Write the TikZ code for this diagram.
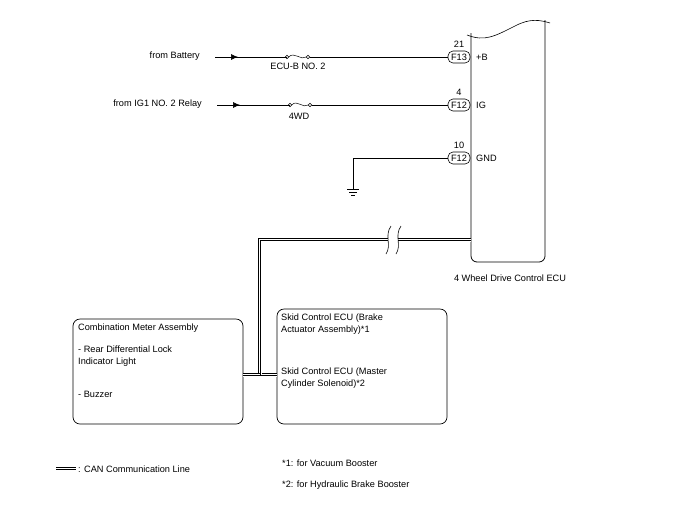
\documentclass[tikz,border=0pt]{standalone}
\usepackage{fontspec}
\setmainfont{Liberation Sans}
\usetikzlibrary{arrows.meta,positioning,calc}

\begin{document}
\begin{tikzpicture}[x=1pt,y=-1pt,
		every node/.style={font=\fontsize{9.2}{12}\selectfont, inner sep=0pt},
		wire/.style={line width=0.6pt},
		can/.style={line width=4.6pt, draw=black, postaction={draw=white, line width=3pt}, postaction={draw=black, line width=0.7pt}},
		pin/.style={draw, rounded corners=5pt, minimum width=22pt, minimum height=12pt, line width=0.6pt},
		box/.style={draw, rounded corners=7pt, line width=0.7pt},
		unitText/.style={anchor=north west, align=left},
		fuse/.style={line width=0.5pt}
	]
	\useasboundingbox (0,0) rectangle (692,520);

	% ECU body
	\draw[line width=0.8pt, rounded corners=6pt] (471,33) -- (471,262) -- (545,262) -- (545,20);
	\draw[line width=0.6pt] (467,35) .. controls (485,42) and (495,36) .. (515,26) .. controls (530,18) and (540,20) .. (550,23);
	\node (ecu) at (510,278) {4 Wheel Drive Control ECU};

	% connectors
	\node[pin] (f13) at (459,57) {F13};
	\node[pin] (f12a) at (459,105) {F12};
	\node[pin] (f12b) at (459,158) {F12};
	\node[above=3pt of f13] {21};
	\node[above=3pt of f12a] {4};
	\node[above=3pt of f12b] {10};
	\node[anchor=west] at (476,57) {+B};
	\node[anchor=west] at (476,105) {IG};
	\node[anchor=west] at (476,158) {GND};

	% +B line
	\node[anchor=east] (bat) at (200,56) {from Battery};
	\coordinate (fa1) at (287,57);
	\coordinate (fa2) at (308,57);
	\draw[wire] (bat.east) ++(15,1) coordinate (bs) -- (fa1);
	\draw[wire, -{Latex[length=7pt,width=6pt]}] (bs) -- (238,57);
	\draw[fuse] (fa1) circle (1.7pt) (fa2) circle (1.7pt);
	\draw[fuse] ($(fa1)+(1.7,0)$) .. controls (294,51) and (301,61) .. ($(fa2)+(-1.7,0)$);
	\draw[wire] ($(fa2)+(1.7,0)$) -- (f13.west);
	\node (ecub) at (298,66) {ECU-B NO. 2};

	% IG line
	\node[anchor=east] (ig) at (202,104) {from IG1 NO. 2 Relay};
	\coordinate (fb1) at (290,105);
	\coordinate (fb2) at (310,105);
	\draw[wire] (ig.east) ++(15,1) coordinate (is) -- (fb1);
	\draw[wire, -{Latex[length=7pt,width=6pt]}] (is) -- (240,105);
	\draw[fuse] (fb1) circle (1.7pt) (fb2) circle (1.7pt);
	\draw[fuse] ($(fb1)+(1.7,0)$) .. controls (297,99) and (303,109) .. ($(fb2)+(-1.7,0)$);
	\draw[wire] ($(fb2)+(1.7,0)$) -- (f12a.west);
	\node (fwd) at (299,116) {4WD};

	% GND line
	\coordinate (gnd) at (353,189);
	\draw[wire] (f12b.west) -- (353,158) -- (gnd);
	\draw[line width=0.6pt] ($(gnd)+(-6,0)$) -- ($(gnd)+(6,0)$)
		($(gnd)+(-4,3)$) -- ($(gnd)+(4,3)$)
		($(gnd)+(-2,6)$) -- ($(gnd)+(2,6)$);

	% units
	\draw[box] (73,319) coordinate (meterNW) rectangle (243,424) coordinate (meterSE);
	\draw[box] (277,309) coordinate (skidNW) rectangle (447,424) coordinate (skidSE);
	\node[unitText] (meter) at (78,324) {Combination Meter Assembly\\[10pt]- Rear Differential Lock\\Indicator Light\\[21pt]- Buzzer};
	\node[unitText] (skid) at (281,314) {Skid Control ECU (Brake\\Actuator Assembly)*1\\[30pt]Skid Control ECU (Master\\Cylinder Solenoid)*2};

	% CAN bus
	\coordinate (ecuCan) at (471,240);
	\coordinate (tee) at (260,375);
	\draw[can] (ecuCan) -- (260,240) -- (tee) -- (skidNW |- tee);
	\draw[can] (meterSE |- tee) -- (tee);
	\fill[white] (388,235) rectangle (398,245);
	\draw[line width=0.6pt] (391,226) .. controls (384,236) and (392,245) .. (386,254)
		(401,226) .. controls (394,236) and (402,245) .. (396,254);

	% legend
	\coordinate (lg) at (56,469);
	\draw[can] (lg) -- ++(20,0) coordinate (lgEnd);
	\node[anchor=west] (lgText) at ($(lgEnd)+(2,0)$) {: CAN Communication Line};
	\node[anchor=west] (note1) at (282,463) {*1: for Vacuum Booster};
	\node[anchor=west] (note2) at (282,485) {*2: for Hydraulic Brake Booster};
\end{tikzpicture}
\end{document}
